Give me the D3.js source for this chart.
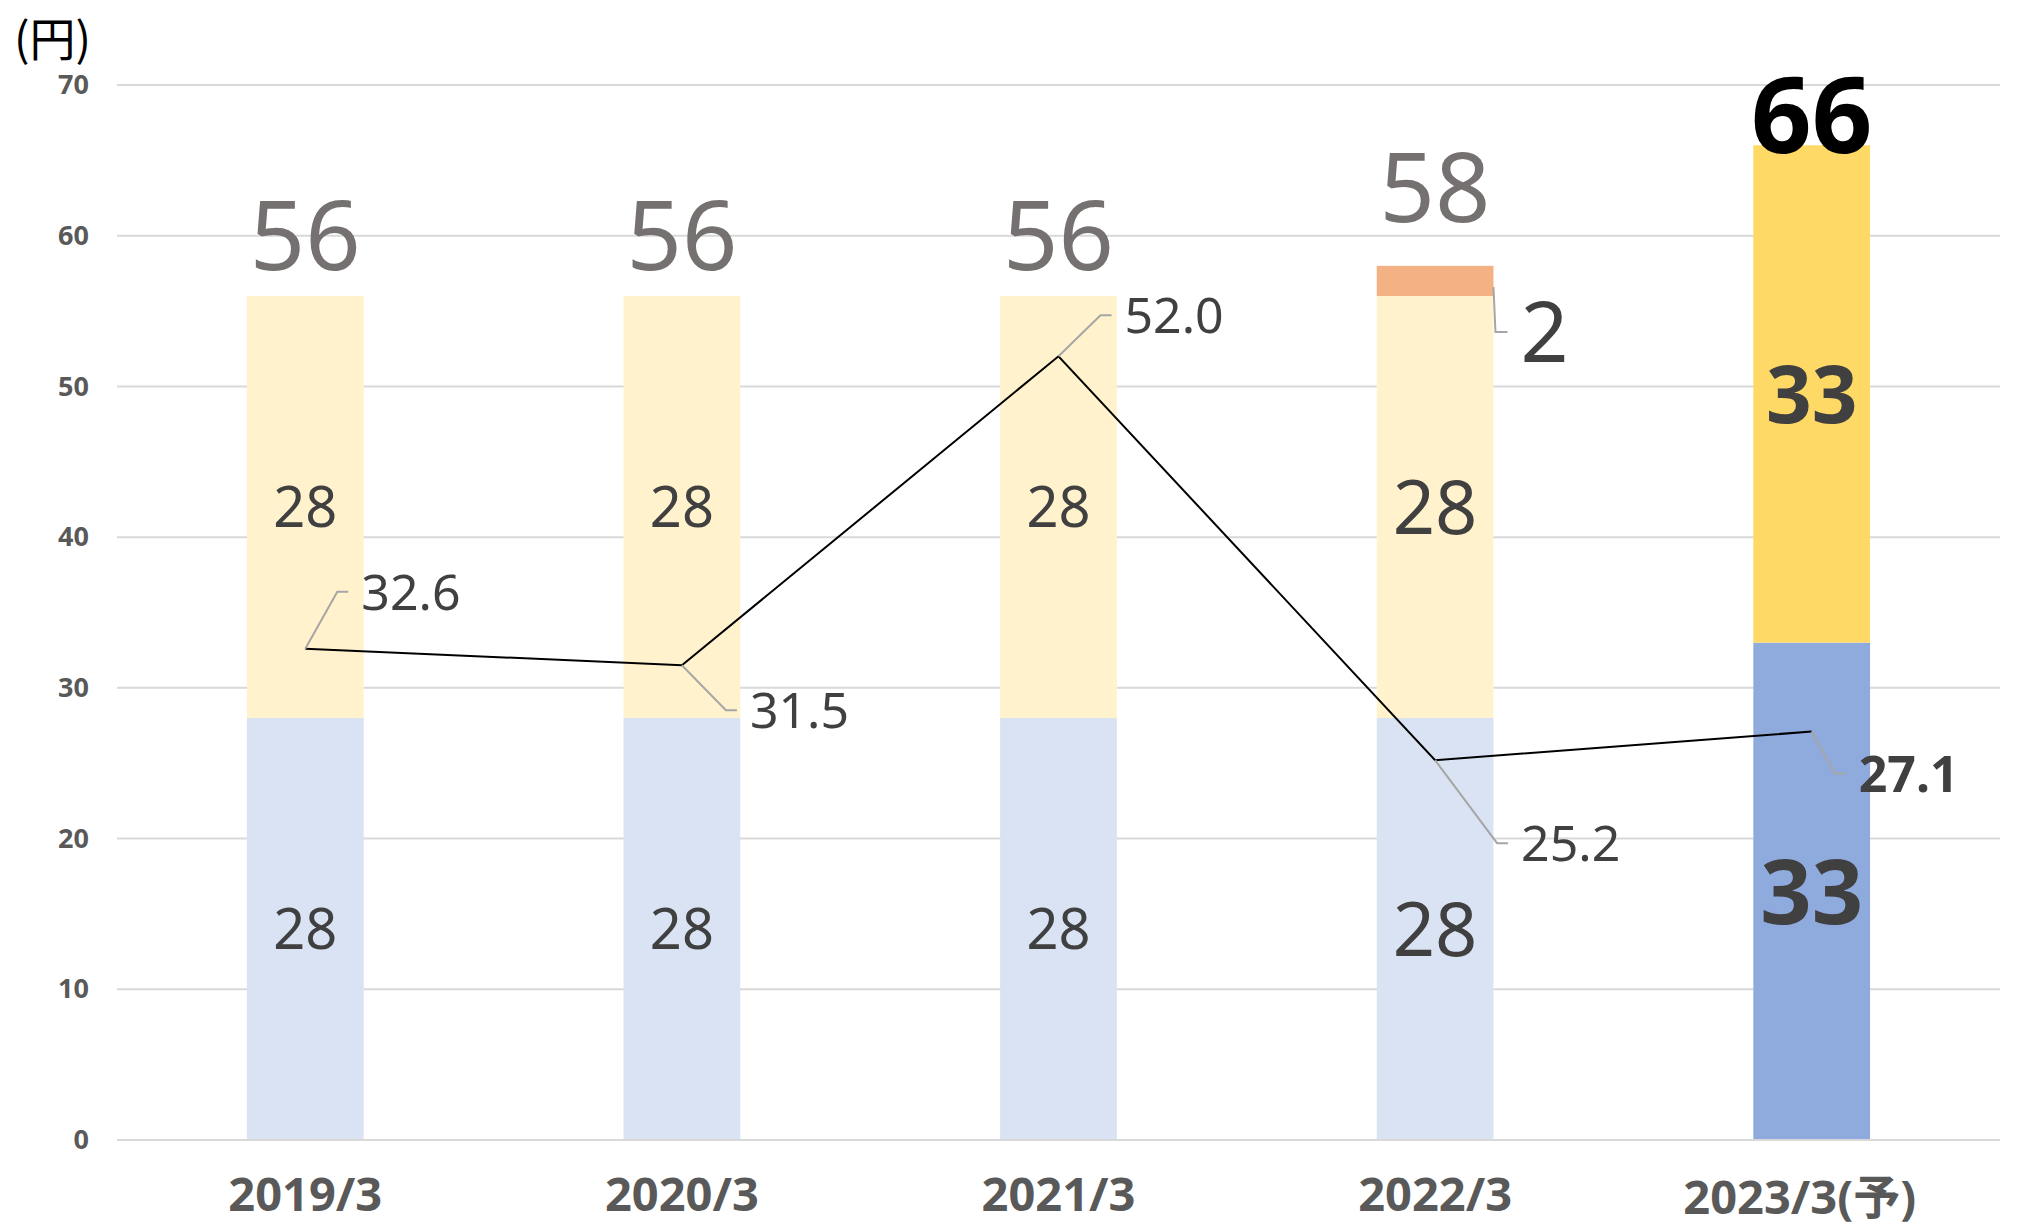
<!DOCTYPE html>
<html>
<head>
<meta charset="utf-8">
<script src="https://cdn.jsdelivr.net/npm/d3@7"></script>
<style>
  body { margin: 0; background: #fff; }
  text { font-family: "Noto Sans", "Noto Sans CJK JP", sans-serif; }
</style>
</head>
<body>
<div class="chart-wrapper"></div>
<script>
let chartW = 2018;
let chartH = 1228;

// data
let categories = ["2019/3", "2020/3", "2021/3", "2022/3", "2023/3(予)"];
let interim = [28, 28, 28, 28, 33];
let yearEnd = [28, 28, 28, 28, 33];
let special = [0, 0, 0, 2, 0];
let totals = [56, 56, 56, 58, 66];
let payout = [32.6, 31.5, 52.0, 25.2, 27.1];
let yTicks = [0, 10, 20, 30, 40, 50, 60, 70];

// label placement for the line labels (elbow dx, dy from the point)
let leaderOffsets = [[32, -57], [44, 45], [42, -41], [62, 83], [23, 42]];

let viz = d3.select(".chart-wrapper")
  .append("svg")
  .attr("width", chartW)
  .attr("height", chartH)
  .style("background-color", "#ffffff");

let xScale = d3.scaleBand().domain(categories).range([117, 2000]).paddingInner(0.69).paddingOuter(0.345);
let yScale = d3.scaleLinear().domain([0, 70]).range([1140, 85]);
let bw = xScale.bandwidth();
let cx = d => xScale(d) + bw / 2;

// unit label
viz.append("text")
  .attr("x", 14)
  .attr("y", 56)
  .attr("font-size", 46)
  .attr("fill", "#000")
  .style("font-family", "'Noto Sans CJK JP', sans-serif")
  .text("(円)");

// gridlines
viz.append("g").selectAll("line").data(yTicks).enter().append("line")
  .attr("x1", 117).attr("x2", 2000)
  .attr("y1", d => yScale(d)).attr("y2", d => yScale(d))
  .attr("stroke", "#d9d9d9").attr("stroke-width", 2);

// y axis
let yAxis = d3.axisLeft(yScale).tickValues(yTicks).tickSize(0).tickPadding(0);
let yAxisGroup = viz.append("g").attr("transform", "translate(89,0)").call(yAxis);
yAxisGroup.select(".domain").remove();
yAxisGroup.selectAll("text")
  .attr("font-size", 27).attr("font-weight", "bold").attr("fill", "#595959")
  .style("font-family", "'Noto Sans', sans-serif");

// x axis labels
let xAxis = d3.axisBottom(xScale).tickSize(0).tickPadding(0);
let xAxisGroup = viz.append("g").attr("transform", "translate(0,1140)").call(xAxis);
xAxisGroup.select(".domain").remove();
xAxisGroup.selectAll("text")
  .attr("y", (d, i) => i == 4 ? 74 : 71)
  .attr("x", (d, i) => i == 4 ? -12 : 0)
  .attr("dy", 0)
  .attr("font-size", 47).attr("font-weight", "bold").attr("fill", "#595959")
  .style("font-family", "'Noto Sans', 'Noto Sans CJK JP', sans-serif");

// bars
let bars = viz.append("g");
categories.forEach((c, i) => {
  let last = i == 4;
  bars.append("rect")
    .attr("x", xScale(c)).attr("width", bw)
    .attr("y", yScale(interim[i])).attr("height", yScale(0) - yScale(interim[i]))
    .attr("fill", last ? "#8faadc" : "#dae3f3");
  bars.append("rect")
    .attr("x", xScale(c)).attr("width", bw)
    .attr("y", yScale(interim[i] + yearEnd[i])).attr("height", yScale(interim[i]) - yScale(interim[i] + yearEnd[i]))
    .attr("fill", last ? "#ffd966" : "#fff2cc");
  if (special[i] > 0) {
    bars.append("rect")
      .attr("x", xScale(c)).attr("width", bw)
      .attr("y", yScale(totals[i])).attr("height", yScale(interim[i] + yearEnd[i]) - yScale(totals[i]))
      .attr("fill", "#f4b183");
  }
});

// axis baseline
viz.append("line")
  .attr("x1", 117).attr("x2", 2000)
  .attr("y1", yScale(0)).attr("y2", yScale(0))
  .attr("stroke", "#d9d9d9").attr("stroke-width", 2);

// segment labels
let segLabels = viz.append("g");
categories.forEach((c, i) => {
  let last = i == 4;
  let big = i == 3;
  let size = last ? 90 : (big ? 74 : 56);
  let size2 = last ? 80 : (big ? 74 : 56);
  segLabels.append("text")
    .attr("x", cx(c)).attr("y", yScale(interim[i] / 2)).attr("dy", "0.36em")
    .attr("text-anchor", "middle").attr("font-size", size)
    .attr("font-weight", last ? "bold" : "normal").attr("fill", "#404040")
    .text(interim[i]);
  segLabels.append("text")
    .attr("x", cx(c)).attr("y", yScale(interim[i] + yearEnd[i] / 2)).attr("dy", "0.36em")
    .attr("text-anchor", "middle").attr("font-size", size2)
    .attr("font-weight", last ? "bold" : "normal").attr("fill", "#404040")
    .text(yearEnd[i]);
});

// totals
categories.forEach((c, i) => {
  let last = i == 4;
  let lift = last ? -8 : (special[i] > 0 ? 44 : 26);
  viz.append("text")
    .attr("x", cx(c)).attr("y", yScale(totals[i]) - lift)
    .attr("text-anchor", "middle")
    .attr("font-size", last ? 106 : 97)
    .attr("font-weight", last ? "bold" : "normal")
    .attr("fill", last ? "#000000" : "#767171")
    .text(totals[i]);
});

// special dividend label
categories.forEach((c, i) => {
  if (special[i] > 0) {
    let x0 = xScale(c) + bw;
    let y0 = yScale(totals[i] - special[i] / 2) + 6;
    viz.append("polyline")
      .attr("points", [[x0, y0], [x0 + 2, y0 + 45], [x0 + 14, y0 + 45]].join(" "))
      .attr("fill", "none").attr("stroke", "#a6a6a6").attr("stroke-width", 2);
    viz.append("text")
      .attr("x", x0 + 27).attr("y", y0 + 45).attr("dy", "0.36em")
      .attr("font-size", 84).attr("fill", "#404040")
      .text(special[i]);
  }
});

// payout line
let line = d3.line().x((d, i) => cx(categories[i])).y(d => yScale(d));
viz.append("path")
  .datum(payout)
  .attr("d", line)
  .attr("fill", "none").attr("stroke", "#000").attr("stroke-width", 2);

// payout labels with leaders
payout.forEach((v, i) => {
  let px = cx(categories[i]);
  let py = yScale(v);
  let o = leaderOffsets[i];
  viz.append("polyline")
    .attr("points", [[px, py], [px + o[0], py + o[1]], [px + o[0] + 11, py + o[1]]].join(" "))
    .attr("fill", "none").attr("stroke", "#a6a6a6").attr("stroke-width", 2);
  viz.append("text")
    .attr("x", px + o[0] + 24).attr("y", py + o[1]).attr("dy", "0.36em")
    .attr("font-size", 50)
    .attr("font-weight", i == 4 ? "bold" : "normal")
    .attr("fill", "#404040")
    .text(d3.format(".1f")(v));
});
</script>
</body>
</html>
